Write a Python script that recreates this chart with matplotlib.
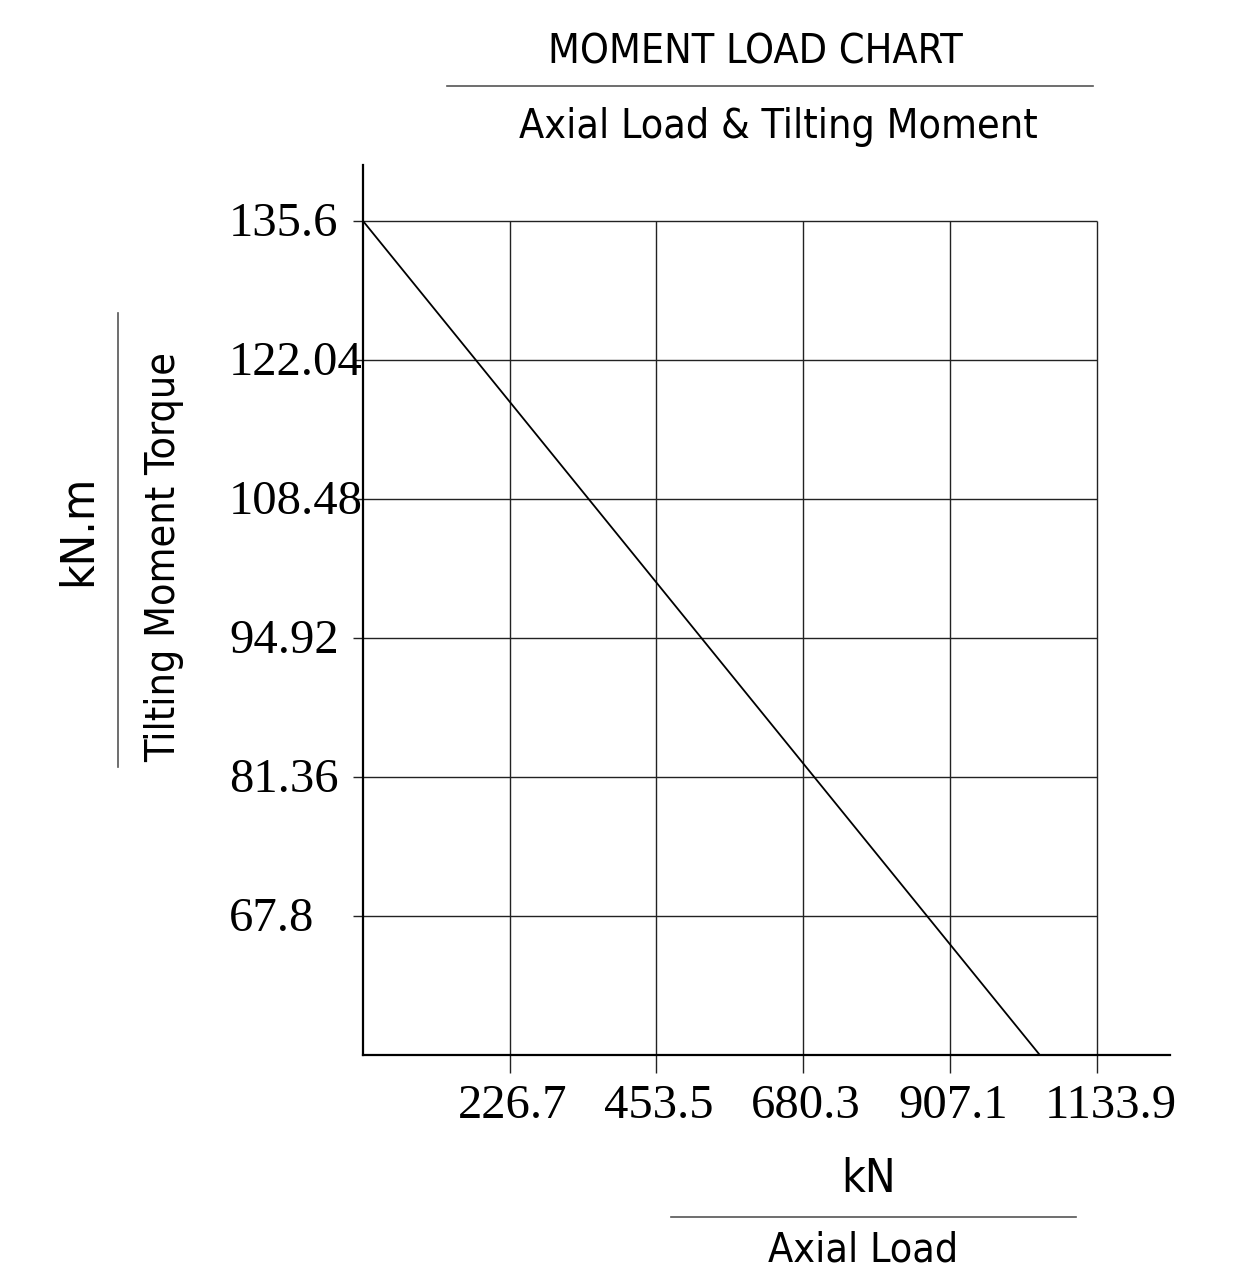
import matplotlib
matplotlib.use("Agg")
import matplotlib.pyplot as plt
from matplotlib.lines import Line2D

# ---- data ----
x_ticks = [226.7, 453.5, 680.3, 907.1, 1133.9]
x_tick_labels = ["226.7", "453.5", "680.3", "907.1", "1133.9"]
y_ticks = [67.8, 81.36, 94.92, 108.48, 122.04, 135.6]
y_tick_labels = ["67.8", "81.36", "94.92", "108.48", "122.04", "135.6"]
line_x = [0, 1046]
line_y = [135.6, 54.24]

W, H = 1248, 1276
fig = plt.figure(figsize=(W / 100, H / 100), dpi=100)

def fx(px):
    return px / W

def fy(py):
    return 1 - py / H

sans = ["DejaVu Sans"]
serif = ["Liberation Serif", "DejaVu Serif"]
TS = 29.5

ax = fig.add_axes([fx(363), fy(1055), fx(1170) - fx(363), fy(165) - fy(1055)])
ax.set_xlim(0, 1247.2)
ax.set_ylim(54.24, 141.06)

for s in ["top", "right"]:
    ax.spines[s].set_visible(False)
for s in ["left", "bottom"]:
    ax.spines[s].set_linewidth(1.6)
    ax.spines[s].set_color("black")

# grid
ax.hlines(y_ticks, 0, x_ticks[-1], color="#222222", lw=1.0)
ax.vlines(x_ticks, line_y[-1], y_ticks[-1], color="#222222", lw=1.0)

ax.plot(line_x, line_y, color="black", lw=1.3)

ax.set_xticks(x_ticks)
ax.set_xticklabels([])
ax.set_yticks(y_ticks)
ax.set_yticklabels([])
ax.tick_params(axis="x", direction="out", length=13, width=1.0, color="#222222")
ax.tick_params(axis="y", direction="out", length=7.2, width=1.0, color="#222222")

# tick labels as text
for v, lab in zip(x_ticks, x_tick_labels):
    px = 363 + v / 226.8 * 146.75
    fig.text(fx(px - 52), fy(1106), lab, ha="left", va="center",
             family=serif, fontsize=35)
for v, lab in zip(y_ticks, y_tick_labels):
    py = 221 + (135.6 - v) / 13.56 * 139
    fig.text(fx(229), fy(py + 3), lab, ha="left", va="center",
             family=serif, fontsize=35)

# titles
fig.text(fx(755), fy(53), "MOMENT LOAD CHART", ha="center", va="center",
         family=sans, fontstretch="condensed", fontsize=TS)
fig.add_artist(Line2D([fx(447), fx(1093)], [fy(86), fy(86)], color="#555555", lw=1.2))
fig.text(fx(778), fy(127), "Axial Load & Tilting Moment", ha="center", va="center",
         family=sans, fontstretch="condensed", fontsize=TS)

# x axis label
fig.text(fx(869), fy(1180), "kN", ha="center", va="center", family=sans,
         fontstretch="condensed", fontsize=33)
fig.add_artist(Line2D([fx(671), fx(1076)], [fy(1217), fy(1217)], color="#555555", lw=1.2))
fig.text(fx(863), fy(1250), "Axial Load", ha="center", va="center", family=sans,
         fontstretch="condensed", fontsize=TS)

# y axis label
fig.text(fx(79), fy(530), "kN.m", ha="center", va="center", rotation=90,
         family=sans, fontstretch="condensed", fontsize=34)
fig.add_artist(Line2D([fx(118), fx(118)], [fy(313), fy(767)], color="#555555", lw=1.2))
fig.text(fx(164), fy(557), "Tilting Moment Torque", ha="center", va="center", rotation=90,
         family=sans, fontstretch="condensed", fontsize=TS)

fig.savefig("out.png", dpi=100, facecolor="white")
